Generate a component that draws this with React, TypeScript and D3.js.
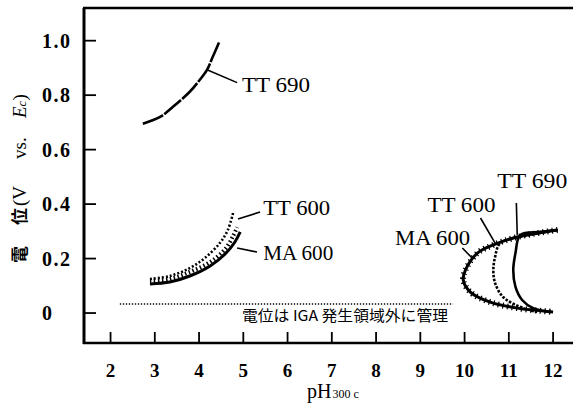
import React from "react";
import * as d3 from "d3";

const W = 573;
const H = 403;

const xTicks = [2, 3, 4, 5, 6, 7, 8, 9, 10, 11, 12];
const yTicks = [0, 0.2, 0.4, 0.6, 0.8, 1.0];
const yTickLabels = ["0", "0.2", "0.4", "0.6", "0.8", "1.0"];

type P = [number, number];

// left group (pH, E)
const tt690Left: P[] = [
  [2.73, 0.695], [3.12, 0.72], [3.41, 0.757], [3.79, 0.8125],
  [3.98, 0.849], [4.18, 0.893], [4.31, 0.941], [4.45, 0.993],
];
const tt600Left: P[] = [
  [2.89, 0.125], [3.34, 0.136], [3.79, 0.165], [4.13, 0.202],
  [4.47, 0.257], [4.65, 0.305], [4.77, 0.368],
];
const bandLeft: P[] = [
  [2.89, 0.118], [3.34, 0.125], [3.79, 0.151], [4.25, 0.187],
  [4.59, 0.235], [4.77, 0.283], [4.86, 0.315],
];
const ma600Left: P[] = [
  [2.89, 0.107], [3.34, 0.114], [3.79, 0.136], [4.25, 0.173],
  [4.59, 0.217], [4.81, 0.261], [4.93, 0.298],
];

// right group (pH, E)
const ma600Right: P[] = [
  [12.1, 0.305], [11.19, 0.279], [10.65, 0.25], [10.29, 0.22],
  [10.02, 0.158], [9.97, 0.121], [10.13, 0.077], [10.58, 0.04],
  [11.19, 0.018], [12.0, 0.004],
];
const tt600Right: P[] = [
  [12.1, 0.305], [11.49, 0.287], [10.81, 0.257], [10.69, 0.206],
  [10.65, 0.158], [10.69, 0.11], [10.87, 0.059], [11.26, 0.022],
  [11.64, 0.004],
];
const tt690Right: P[] = [
  [12.1, 0.305], [11.71, 0.298], [11.26, 0.287], [11.15, 0.22],
  [11.1, 0.158], [11.15, 0.096], [11.3, 0.048], [11.55, 0.018],
  [11.94, 0.004],
];

const controlLine: P[] = [[2.21, 0.033], [9.74, 0.033]];
const annotation = "電位は IGA 発生領域外に管理";
const seriesNames = ["TT 690", "TT 600", "MA 600"];

export default function App() {
  const x = d3.scaleLinear().domain([1.4, 12.45]).range([84, 573]);
  const y = d3.scaleLinear().domain([-0.11, 1.12]).range([343, 8]);
  const line = d3
    .line<P>()
    .x((d) => x(d[0]))
    .y((d) => y(d[1]))
    .curve(d3.curveCatmullRom.alpha(0.5));

  const serif = "'Liberation Serif', 'DejaVu Serif', serif";
  const cjk = "'Noto Sans CJK JP', 'Noto Sans', sans-serif";

  const leader = (a: P, b: P, k: string) => (
    <line key={k} x1={x(a[0])} y1={y(a[1])} x2={x(b[0])} y2={y(b[1])} stroke="#000" strokeWidth={1.6} />
  );
  const label = (t: string, px: number, py: number, len: number, k: string) => (
    <text key={k} x={x(px)} y={y(py)} fontFamily={serif} fontSize={21} textLength={len} lengthAdjust="spacingAndGlyphs" fill="#000">
      {t}
    </text>
  );

  return (
    <svg width={W} height={H} style={{ position: "absolute", left: 0, top: 0, background: "#fff" }}>
      <rect width={W} height={H} fill="#fff" />
      {/* frame */}
      <line x1={84} y1={8} x2={84} y2={344} stroke="#000" strokeWidth={3} />
      <line x1={83} y1={8} x2={573} y2={8} stroke="#000" strokeWidth={2.5} />
      <line x1={83} y1={343} x2={573} y2={343} stroke="#000" strokeWidth={2.5} />
      {/* ticks */}
      {yTicks.map((t, i) => (
        <g key={"y" + i}>
          <line x1={84} x2={96} y1={y(t)} y2={y(t)} stroke="#000" strokeWidth={1.8} />
          <text x={42} y={y(t) + 7} fontFamily={serif} fontWeight="bold" fontSize={20} letterSpacing={1.5} fill="#000">
            {yTickLabels[i]}
          </text>
        </g>
      ))}
      {xTicks.map((t) => (
        <g key={"x" + t}>
          <line x1={x(t)} x2={x(t)} y1={343} y2={332} stroke="#000" strokeWidth={1.8} />
          <text x={x(t)} y={377} textAnchor="middle" fontFamily={serif} fontWeight="bold" fontSize={19} fill="#000">
            {t}
          </text>
        </g>
      ))}
      {/* axis titles */}
      <g transform="translate(26,263) rotate(-90)" fill="#000">
        <text x={0} y={0} fontFamily={cjk} fontSize={17} fontWeight="bold">電</text>
        <text x={38} y={0} fontFamily={cjk} fontSize={17} fontWeight="bold">位</text>
        <text x={57} y={0} fontFamily={serif} fontSize={19}>(V</text>
        <text x={104} y={0} fontFamily={serif} fontSize={19}>vs.</text>
        <text x={145} y={0} fontFamily={serif} fontSize={19}>
          <tspan fontStyle="italic">E</tspan>
          <tspan fontStyle="italic" fontSize={13}>c</tspan>
          <tspan>)</tspan>
        </text>
      </g>
      <text x={307} y={398} fontFamily={serif} fontSize={20} fill="#000">
        pH<tspan fontSize={12} dx={1}>300 c</tspan>
      </text>

      {/* control line + annotation */}
      <path d={line(controlLine) || ""} fill="none" stroke="#000" strokeWidth={1.5} strokeDasharray="1.3 1.7" />
      <text x={345} y={321} textAnchor="middle" fontFamily={cjk} fontSize={15} textLength={206} lengthAdjust="spacingAndGlyphs" fill="#000">
        {annotation}
      </text>

      {/* left curves */}
      <path d={line(tt690Left) || ""} fill="none" stroke="#000" strokeWidth={2.6} strokeDasharray="22 1.5" />
      <path d={line(tt600Left) || ""} fill="none" stroke="#000" strokeWidth={2.6} strokeDasharray="2 2" />
      <path d={line(bandLeft) || ""} fill="none" stroke="#000" strokeWidth={4} strokeDasharray="1.5 2.5" />
      <path d={line(ma600Left) || ""} fill="none" stroke="#000" strokeWidth={3} />

      {/* right curves */}
      <path d={line(ma600Right) || ""} fill="none" stroke="#000" strokeWidth={3} />
      <path d={line(ma600Right) || ""} fill="none" stroke="#000" strokeWidth={6} strokeDasharray="1.2 3.5" />
      <path d={line(tt600Right) || ""} fill="none" stroke="#000" strokeWidth={2.6} strokeDasharray="2.5 1.5" />
      <path d={line(tt690Right) || ""} fill="none" stroke="#000" strokeWidth={2.6} />

      {/* leaders */}
      {leader([4.18, 0.893], [4.86, 0.846], "l1")}
      {leader([4.88, 0.345], [5.38, 0.371], "l2")}
      {leader([4.86, 0.239], [5.31, 0.224], "l3")}
      {leader([11.17, 0.404], [11.19, 0.287], "l4")}
      {leader([10.36, 0.349], [10.69, 0.257], "l5")}
      {leader([9.95, 0.239], [10.17, 0.202], "l6")}

      {/* labels */}
      {label(seriesNames[0], 4.97, 0.81, 68, "t1")}
      {label(seriesNames[1], 5.45, 0.36, 67, "t2")}
      {label(seriesNames[2], 5.45, 0.195, 70, "t3")}
      {label(seriesNames[0], 10.74, 0.46, 70, "t4")}
      {label(seriesNames[1], 9.16, 0.371, 68, "t5")}
      {label(seriesNames[2], 8.43, 0.25, 75, "t6")}
    </svg>
  );
}
